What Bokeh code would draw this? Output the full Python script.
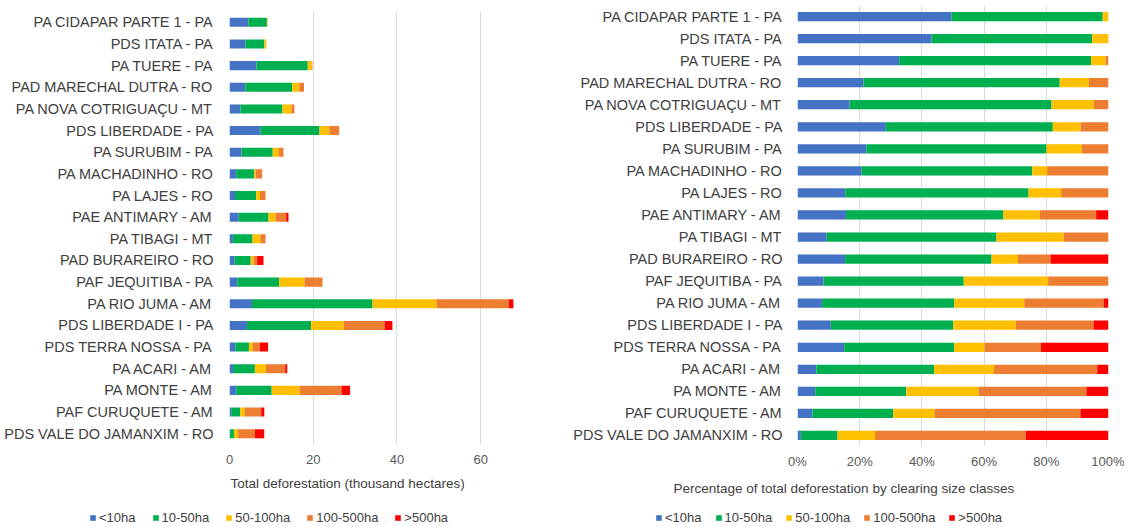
from bokeh.plotting import figure
from bokeh.models import (ColumnDataSource, FactorRange, Range1d, Legend, LegendItem,
                          Title, FixedTicker, PrintfTickFormatter)
from bokeh.layouts import row, column
from bokeh.embed import file_html
from bokeh.resources import INLINE

settlements = [
    "PA CIDAPAR PARTE 1 - PA", "PDS ITATA - PA", "PA TUERE - PA", "PAD MARECHAL DUTRA - RO",
    "PA NOVA COTRIGUAÇU - MT", "PDS LIBERDADE - PA", "PA SURUBIM - PA", "PA MACHADINHO - RO",
    "PA LAJES - RO", "PAE ANTIMARY - AM", "PA TIBAGI - MT", "PAD BURAREIRO - RO",
    "PAF JEQUITIBA - PA", "PA RIO JUMA - AM", "PDS LIBERDADE I - PA", "PDS TERRA NOSSA - PA",
    "PA ACARI - AM", "PA MONTE - AM", "PAF CURUQUETE - AM", "PDS VALE DO JAMANXIM - RO",
]
# thousand hectares by clearing size class
lt10 = [4.51, 3.79, 6.47, 3.77, 2.60, 7.44, 2.86, 1.61, 1.32, 2.20, 0.81, 1.24, 1.86, 5.36, 4.16, 1.38, 0.84, 1.64, 0.40, 0.09]
c10_50 = [4.42, 4.55, 12.22, 11.23, 10.06, 14.07, 7.47, 4.28, 5.07, 7.13, 4.70, 3.82, 10.01, 28.82, 15.33, 3.26, 5.22, 8.44, 2.16, 0.98]
c50_100 = [0.17, 0.46, 0.93, 1.67, 2.11, 2.33, 1.46, 0.37, 0.90, 1.65, 1.86, 0.69, 6.02, 15.26, 7.82, 0.90, 2.66, 6.68, 1.10, 1.00]
c100_500 = [0.0, 0.0, 0.18, 1.12, 0.73, 2.36, 1.11, 1.54, 1.31, 2.55, 1.24, 0.85, 4.31, 17.29, 9.73, 1.67, 4.58, 9.99, 3.90, 4.02]
gt500 = [0.0, 0.0, 0.0, 0.0, 0.0, 0.0, 0.0, 0.0, 0.0, 0.56, 0.0, 1.51, 0.0, 1.08, 1.87, 2.00, 0.50, 2.04, 0.75, 2.21]

classes = ["<10ha", "10-50ha", "50-100ha", "100-500ha", ">500ha"]
keys = ["c0", "c1", "c2", "c3", "c4"]
colors = ["#4472C4", "#00B050", "#FFC000", "#ED7D31", "#FF0000"]
left_ticks = [0, 20, 40, 60]
right_ticks = [0, 20, 40, 60, 80, 100]

series = [lt10, c10_50, c50_100, c100_500, gt500]
totals = [sum(v) for v in zip(*series)]

abs_data = {"name": settlements}
pct_data = {"name": settlements}
for k, s in zip(keys, series):
    abs_data[k] = s
    pct_data[k] = [v / t * 100 for v, t in zip(s, totals)]

FONT = "Liberation Sans"
LABEL_COLOR = "#404040"
TICK_COLOR = "#595959"
GRID = "#D9D9D9"
H_MAIN = 502
H_LEG = 24


def make_fig(data, width, min_left, min_right, top, bottom, xr, ticks, title_text,
             title_offset, tick_standoff, title_standoff, label_standoff, pct=False):
    p = figure(width=width, height=H_MAIN, output_backend="svg", toolbar_location=None,
               y_range=FactorRange(factors=list(reversed(settlements))),
               x_range=xr, min_border_left=min_left, min_border_right=min_right,
               min_border_top=top, min_border_bottom=bottom)
    src = ColumnDataSource(data)
    p.hbar_stack(keys, y="name", height=0.42, color=colors, line_color=None, source=src)
    p.outline_line_color = None
    p.ygrid.grid_line_color = None
    p.xgrid.grid_line_color = GRID
    p.xgrid.ticker = FixedTicker(ticks=ticks)
    p.xaxis.ticker = FixedTicker(ticks=ticks)
    if pct:
        p.xaxis.formatter = PrintfTickFormatter(format="%d%%")
    for ax in (p.xaxis[0], p.yaxis[0]):
        ax.axis_line_color = None
        ax.major_tick_line_color = None
        ax.minor_tick_line_color = None
        ax.major_tick_in = 0
        ax.major_tick_out = 0
    p.xaxis.major_label_text_font = FONT
    p.xaxis.major_label_text_font_size = "13px"
    p.xaxis.major_label_text_color = TICK_COLOR
    p.xaxis.major_label_standoff = tick_standoff
    p.yaxis.major_label_text_font = FONT
    p.yaxis.major_label_text_font_size = "14.5px"
    p.yaxis.major_label_text_color = LABEL_COLOR
    p.yaxis.major_label_standoff = label_standoff

    t = Title(text=title_text, align="left", offset=title_offset, text_font=FONT,
              text_font_size="13.5px", text_font_style="normal", text_color=LABEL_COLOR,
              standoff=title_standoff)
    p.add_layout(t, "below")
    return p


def make_legend(data, width, legend_x, spacing):
    # legend-only strip: the stacked bars sit outside the visible x range
    lp = figure(width=width, height=H_LEG, output_backend="svg", toolbar_location=None,
                x_range=Range1d(-2, -1), y_range=FactorRange(factors=list(settlements)),
                min_border=0, min_border_left=0, min_border_right=0,
                min_border_top=0, min_border_bottom=0)
    lp.axis.visible = False
    lp.grid.visible = False
    lp.outline_line_color = None
    src = ColumnDataSource(data)
    rs = lp.hbar_stack(keys, y="name", height=0.5, color=colors, line_color=None, source=src)
    items = [LegendItem(label=c, renderers=[r]) for c, r in zip(classes, rs)]
    leg = Legend(items=items, orientation="horizontal", location=(legend_x, 1),
                 glyph_width=7, glyph_height=7, label_standoff=3, spacing=spacing,
                 label_text_font=FONT, label_text_font_size="13px",
                 label_text_color=LABEL_COLOR, padding=2, margin=0,
                 border_line_color=None, background_fill_alpha=0)
    lp.add_layout(leg, "center")
    return lp


p1 = make_fig(abs_data, 558, 229, 15, 11, 58, Range1d(0, 75), left_ticks,
              "Total deforestation (thousand hectares)", 1, 10, 14, 16)
p2 = make_fig(pct_data, 566, 239, 16, 5, 55, Range1d(0, 100), right_ticks,
              "Percentage of total deforestation by clearing size classes", -124, 7, 14, 15,
              pct=True)
l1 = make_legend(abs_data, 558, 89, 16)
l2 = make_legend(pct_data, 566, 97, 13)

layout = row(column(p1, row(l1)), column(p2, row(l2)))
open("out.html", "w").write(file_html(layout, INLINE))
